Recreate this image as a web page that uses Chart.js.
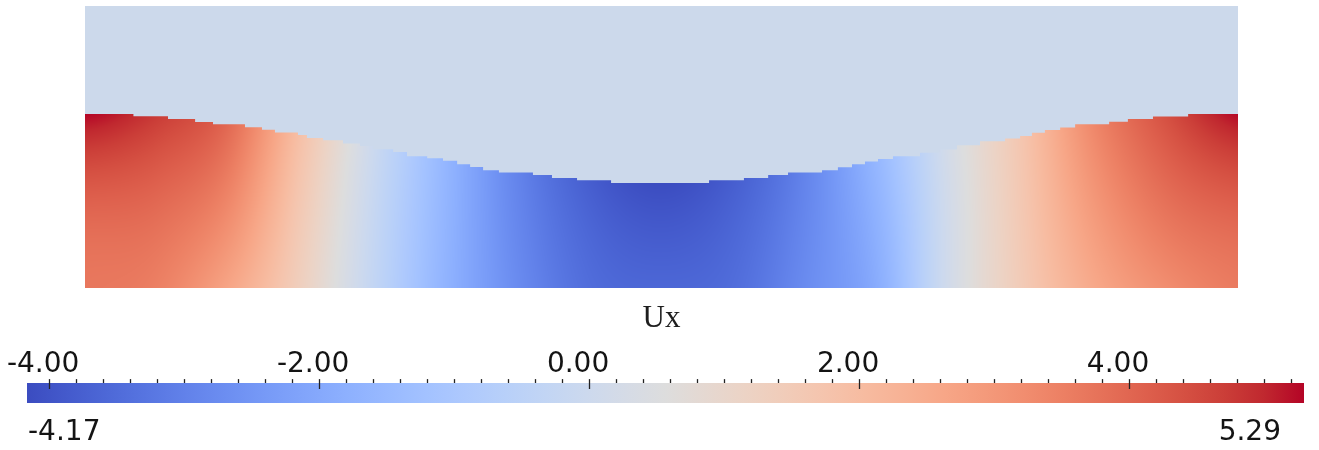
<!DOCTYPE html>
<html>
<head>
<meta charset="utf-8">
<title>Ux</title>
<script src="https://cdn.jsdelivr.net/npm/chart.js@4.4.1/dist/chart.umd.min.js"></script>
<style>
  html, body { margin: 0; padding: 0; background: #ffffff; }
  #wrap { position: relative; width: 1319px; height: 450px; overflow: hidden; }
  #field { position: absolute; left: 0; top: 0; }
  #legend { position: absolute; left: 0; top: 340px; }
</style>
</head>
<body>
<div id="wrap">
  <canvas id="field" width="1319" height="340"></canvas>
  <canvas id="legend" width="1319" height="110"></canvas>
</div>
<script>
// ---- Domain (x along the tank, y from bed to lid) ----
const domainX = [0, 4];
const domainY = [0, 1];

// ---- Free surface: start of each flat step and its height ----
const surfaceX = [0, 0.168, 0.288, 0.382, 0.444, 0.555, 0.614, 0.659, 0.739, 0.770,
                  0.826, 0.895, 0.954, 0.999, 1.069, 1.117, 1.187, 1.242, 1.291, 1.336,
                  1.381, 1.436, 1.554, 1.620, 1.707, 1.825, 2.165, 2.286, 2.370, 2.439,
                  2.557, 2.612, 2.661, 2.706, 2.751, 2.803, 2.897, 2.966, 3.025, 3.105,
                  3.192, 3.244, 3.285, 3.330, 3.383, 3.435, 3.553, 3.618, 3.705, 3.827, 4.0];
const surfaceY = [0.617, 0.609, 0.599, 0.588, 0.580, 0.570, 0.561, 0.551, 0.542, 0.532,
                  0.524, 0.512, 0.503, 0.492, 0.482, 0.467, 0.460, 0.451, 0.438, 0.429,
                  0.417, 0.409, 0.400, 0.390, 0.382, 0.372, 0.382, 0.390, 0.400, 0.409,
                  0.417, 0.428, 0.438, 0.448, 0.457, 0.467, 0.479, 0.491, 0.506, 0.520,
                  0.530, 0.539, 0.550, 0.560, 0.569, 0.580, 0.589, 0.599, 0.608, 0.617, 0.617];

// ---- Ux sampled on columns: at the bed, at mid-depth and at the free surface ----
const columnX   = [0, 0.25, 0.5, 0.75, 1.0, 1.25, 1.5, 1.75, 2.0, 2.25, 2.5, 2.75, 3.0, 3.25, 3.5, 3.75, 4.0];
const uxSurface = [5.29, 4.72, 3.92, 1.85, -0.05, -1.60, -2.94, -3.80, -4.17, -3.80, -2.94, -1.55, 0.25, 1.70, 3.35, 4.40, 5.25];
const uxMid     = [4.10, 3.95, 3.30, 1.55, -0.20, -1.65, -2.85, -3.60, -3.85, -3.60, -2.85, -1.75, 0.15, 1.60, 2.95, 3.80, 4.15];
const uxBed     = [3.68, 3.50, 2.64, 1.30, -0.30, -1.70, -2.75, -3.46, -3.60, -3.46, -2.75, -1.90, 0.15, 1.50, 2.55, 3.20, 3.60];

// ---- Colour legend ----
const fieldName = 'Ux';
const uxRange = [-4.17, 5.29];
const majorTicks = [-4, -2, 0, 2, 4];
const minorTicks = [-4.0, -3.8, -3.6, -3.4, -3.2, -3.0, -2.8, -2.6, -2.4, -2.2,
                    -2.0, -1.8, -1.6, -1.4, -1.2, -1.0, -0.8, -0.6, -0.4, -0.2,
                     0.0,  0.2,  0.4,  0.6,  0.8,  1.0,  1.2,  1.4,  1.6,  1.8,
                     2.0,  2.2,  2.4,  2.6,  2.8,  3.0,  3.2,  3.4,  3.6,  3.8,
                     4.0,  4.2,  4.4,  4.6,  4.8,  5.0,  5.2];

// Cool-to-warm diverging colour table (evenly spaced from low to high)
const coolWarm = [
  [59, 76, 192], [68, 90, 204], [77, 104, 215], [87, 117, 225], [98, 130, 234],
  [108, 142, 241], [119, 154, 247], [130, 165, 251], [141, 176, 254], [152, 185, 255],
  [163, 194, 255], [174, 201, 253], [184, 208, 249], [194, 213, 244], [204, 217, 238],
  [213, 219, 230], [221, 221, 221], [229, 216, 209], [236, 211, 197], [241, 204, 185],
  [245, 196, 173], [247, 187, 160], [247, 177, 148], [247, 166, 135], [244, 154, 123],
  [241, 141, 111], [236, 127, 99], [229, 112, 88], [222, 96, 77], [213, 80, 66],
  [203, 62, 56], [192, 40, 47], [180, 4, 38]
];

const airColor = '#CCD9EB';
const textColor = '#141414';
const tickColor = '#222222';
const numberFont = 'DejaVu Sans';
const numberSize = 28;
const minorTickLength = 4;
const labelPadding = -2.5;

function colorFor(v) {
  let t = (v - uxRange[0]) / (uxRange[1] - uxRange[0]);
  t = Math.max(0, Math.min(1, t));
  const f = t * (coolWarm.length - 1);
  const i = Math.min(coolWarm.length - 2, Math.floor(f));
  const k = f - i;
  const a = coolWarm[i], b = coolWarm[i + 1];
  return [a[0] + (b[0] - a[0]) * k, a[1] + (b[1] - a[1]) * k, a[2] + (b[2] - a[2]) * k];
}

// piecewise-linear lookup along x (used for the surface height)
function lerpAlong(xs, vs, x) {
  if (x <= xs[0]) return vs[0];
  for (let i = 1; i < xs.length; i++) {
    if (x <= xs[i]) {
      const k = (x - xs[i - 1]) / (xs[i] - xs[i - 1]);
      return vs[i - 1] + (vs[i] - vs[i - 1]) * k;
    }
  }
  return vs[vs.length - 1];
}

// smooth (Catmull-Rom) lookup between column samples, so shading has no kinks
function smoothAlong(xs, vs, x) {
  const n = xs.length;
  if (x <= xs[0]) return vs[0];
  if (x >= xs[n - 1]) return vs[n - 1];
  let i = 1;
  while (i < n - 1 && x > xs[i]) i++;
  const i0 = i - 1, i1 = i;
  const t = (x - xs[i0]) / (xs[i1] - xs[i0]);
  const p0 = vs[Math.max(0, i0 - 1)], p1 = vs[i0], p2 = vs[i1], p3 = vs[Math.min(n - 1, i1 + 1)];
  const m1 = (p2 - p0) / 2, m2 = (p3 - p1) / 2;
  const t2 = t * t, t3 = t2 * t;
  return (2 * t3 - 3 * t2 + 1) * p1 + (t3 - 2 * t2 + t) * m1 + (-2 * t3 + 3 * t2) * p2 + (t3 - t2) * m2;
}

// Paints the Ux field under the free surface, pixel by pixel through the chart scales
const uxFieldPlugin = {
  id: 'uxField',
  beforeDatasetsDraw(chart) {
    const { ctx, chartArea: area, scales } = chart;
    const xs = scales.x, ys = scales.y;
    const w = Math.round(area.right - area.left);
    const h = Math.round(area.bottom - area.top);
    const off = document.createElement('canvas');
    off.width = w; off.height = h;
    const octx = off.getContext('2d');
    const img = octx.createImageData(w, h);
    const px = img.data;
    for (let i = 0; i < w; i++) {
      const X = xs.getValueForPixel(area.left + i + 0.5);
      const depth = lerpAlong(surfaceX, surfaceY, X);
      const vb = smoothAlong(columnX, uxBed, X);
      const vm = smoothAlong(columnX, uxMid, X);
      const vs = smoothAlong(columnX, uxSurface, X);
      for (let j = 0; j < h; j++) {
        const Y = ys.getValueForPixel(area.top + j + 0.5);
        const s = Math.max(0, Math.min(1, Y / depth));
        // quadratic through bed / mid / surface samples
        const v = vb * (1 - s) * (1 - 2 * s) + vm * 4 * s * (1 - s) + vs * s * (2 * s - 1);
        const c = colorFor(v);
        const o = (j * w + i) * 4;
        px[o] = c[0]; px[o + 1] = c[1]; px[o + 2] = c[2]; px[o + 3] = 255;
      }
    }
    octx.putImageData(img, 0, 0);
    ctx.drawImage(off, area.left, area.top, area.right - area.left, area.bottom - area.top);
  }
};

new Chart(document.getElementById('field'), {
  type: 'line',
  data: {
    datasets: [{
      label: 'free surface',
      data: surfaceX.map((x, i) => ({ x: x, y: surfaceY[i] })),
      stepped: 'before',
      fill: 'end',
      backgroundColor: airColor,
      borderColor: 'rgba(0,0,0,0)',
      borderWidth: 0,
      pointRadius: 0,
      tension: 0
    }]
  },
  options: {
    responsive: false,
    animation: false,
    devicePixelRatio: 1,
    layout: { padding: { left: 85, right: 81, top: 6, bottom: 3 } },
    plugins: {
      legend: { display: false },
      tooltip: { enabled: false },
      title: {
        display: true,
        position: 'bottom',
        text: fieldName,
        color: '#1e1e1e',
        font: { family: 'Liberation Serif', size: 31, weight: 'normal' },
        padding: { top: 12, bottom: 0 }
      }
    },
    scales: {
      x: { type: 'linear', min: domainX[0], max: domainX[1], display: false },
      y: { type: 'linear', min: domainY[0], max: domainY[1], display: false }
    }
  },
  plugins: [uxFieldPlugin]
});

// ---- Colour bar ----
function legendGradient(chart) {
  const x = chart.scales && chart.scales.x;
  const fallback = 'rgb(221,221,221)';
  if (!x) return fallback;
  const x0 = x.getPixelForValue(uxRange[0]);
  const x1 = x.getPixelForValue(uxRange[1]);
  if (!isFinite(x0) || !isFinite(x1) || x0 === x1) return fallback;
  const g = chart.ctx.createLinearGradient(x0, 0, x1, 0);
  coolWarm.forEach((c, i) => g.addColorStop(i / (coolWarm.length - 1), `rgb(${c[0]},${c[1]},${c[2]})`));
  return g;
}

const isMajor = (v) => majorTicks.some((m) => Math.abs(m - v) < 1e-6);

const rangeLabels = {
  id: 'rangeLabels',
  afterDraw(chart) {
    const { ctx, chartArea: a } = chart;
    ctx.save();
    ctx.font = `${numberSize}px "${numberFont}"`;
    ctx.fillStyle = textColor;
    ctx.textBaseline = 'alphabetic';
    ctx.textAlign = 'left';
    ctx.fillText(uxRange[0].toFixed(2), a.left + 1, a.bottom + 37);
    ctx.textAlign = 'right';
    ctx.fillText(uxRange[1].toFixed(2), a.right - 23, a.bottom + 37);
    ctx.restore();
  }
};

new Chart(document.getElementById('legend'), {
  type: 'bar',
  data: {
    labels: [fieldName],
    datasets: [{
      data: [uxRange],
      backgroundColor: (c) => legendGradient(c.chart),
      borderWidth: 0,
      barPercentage: 1,
      categoryPercentage: 1
    }]
  },
  options: {
    indexAxis: 'y',
    responsive: false,
    animation: false,
    devicePixelRatio: 1,
    layout: { padding: { top: 8, left: 27, right: 15, bottom: 47 } },
    plugins: { legend: { display: false }, tooltip: { enabled: false }, title: { display: false } },
    scales: {
      x: {
        type: 'linear',
        position: 'top',
        min: uxRange[0],
        max: uxRange[1],
        afterBuildTicks: (scale) => { scale.ticks = minorTicks.map((v) => ({ value: v })); },
        afterFit: (scale) => {
          // keep the full label band even though the bar itself is thin
          scale.paddingLeft = 0;
          scale.paddingRight = 0;
          scale.height = minorTickLength + numberSize * 1.2 + labelPadding;
        },
        grid: { drawOnChartArea: false, tickLength: minorTickLength, tickColor: tickColor, tickWidth: 1.3 },
        border: { display: false },
        ticks: {
          padding: labelPadding,
          align: 'start',
          labelOffset: -43,
          autoSkip: false,
          maxRotation: 0,
          minRotation: 0,
          color: textColor,
          font: { family: numberFont, size: numberSize },
          callback: (v) => (isMajor(v) ? Number(v).toFixed(2) : '')
        }
      },
      majorMarks: {
        type: 'linear',
        axis: 'x',
        position: { y: -0.5 },
        min: uxRange[0],
        max: uxRange[1],
        afterBuildTicks: (scale) => { scale.ticks = majorTicks.map((v) => ({ value: v })); },
        grid: { drawOnChartArea: false, tickLength: 6, tickColor: tickColor, tickWidth: 1.3, z: 1 },
        border: { display: false },
        ticks: { display: false }
      },
      y: { type: 'category', display: false }
    }
  },
  plugins: [rangeLabels]
});
</script>
</body>
</html>
